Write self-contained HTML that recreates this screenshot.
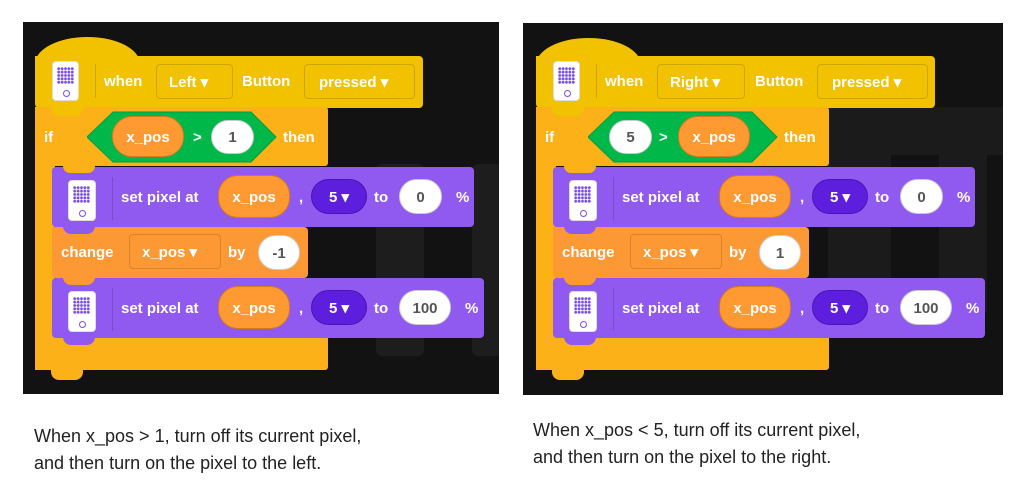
<!DOCTYPE html>
<html><head><meta charset="utf-8"><style>
body{margin:0;width:1024px;height:487px;background:#fff;position:relative;overflow:hidden;font-family:"Liberation Sans",sans-serif}
.panel{position:absolute;width:476px;height:372px;background:#121212}
.panel div{position:absolute;box-sizing:border-box}
.t{color:#fff;font-weight:bold;font-size:15px;line-height:1;white-space:nowrap}
.ico{background:#fff;border-radius:4px;border:1px solid #ddd}
.ico::before{content:"";position:absolute;left:4px;top:5px;width:17px;height:17px;background-image:radial-gradient(circle,#7a4ee6 1.3px,transparent 1.6px);background-size:3.4px 3.4px}
.ico::after{content:"";position:absolute;left:10px;bottom:3px;width:5px;height:5px;border:1.5px solid #7a4ee6;border-radius:50%}
.pill{border-radius:20px;text-align:center;color:#fff;font-weight:bold;font-size:15px;line-height:1}
.wp{background:#fff;color:#555;border:1px solid #ccc}
.op{background:#ff9a33;border:1px solid #d97a1a}
.dp{background:#5d1fdd;border:1px solid #4a15b5}
.dd{border:1px solid rgba(0,0,0,.15);border-radius:4px;color:#fff;font-weight:bold;font-size:15px;line-height:1}
.y{background:#f2c200}.c{background:#fbb117}.p{background:#9059f0}.o{background:#fd9935}
.tx{position:absolute;font-size:18px;color:#222;line-height:27px;white-space:nowrap}
</style></head><body>

<!-- LEFT -->
<div class="panel" style="left:23px;top:22px">
  <div style="left:353px;top:142px;width:48px;height:192px;background:#1d1d1d;border-radius:6px"></div>
  <div style="left:449px;top:142px;width:27px;height:192px;background:#1d1d1d;border-radius:6px 0 0 6px"></div>
  <div class="y" style="left:12px;top:15px;width:105px;height:60px;border-radius:50% 50% 0 0/45% 45% 0 0"></div>
  <div class="y" style="left:12px;top:34px;width:388px;height:52px;border-radius:0 4px 4px 4px"></div>
  <div class="c" style="left:12px;top:85px;width:293px;height:59px;border-radius:0 3px 3px 0"></div>
  <div class="c" style="left:12px;top:85px;width:20px;height:263px"></div>
  <div class="c" style="left:12px;top:312px;width:293px;height:36px;border-radius:0 3px 3px 3px"></div>
  <div class="c" style="left:28px;top:346px;width:32px;height:12px;border-radius:0 0 8px 8px"></div>
  <div class="y" style="left:28px;top:84px;width:32px;height:10px;border-radius:0 0 8px 8px"></div>
  <div class="ico" style="left:29px;top:39px;width:27px;height:40px"></div>
  <div style="left:72px;top:42px;width:1px;height:34px;background:rgba(0,0,0,.15)"></div>
  <div class="t" style="left:81px;top:52px">when</div>
  <div class="dd" style="left:133px;top:42px;width:77px;height:35px;padding:10px 0 0 12px">Left ▾</div>
  <div class="t" style="left:219px;top:52px">Button</div>
  <div class="dd" style="left:281px;top:42px;width:111px;height:35px;padding:10px 0 0 14px">pressed ▾</div>
  <div class="t" style="left:21px;top:108px">if</div>
  <svg style="position:absolute;left:64px;top:89px" width="190" height="52"><polygon points="0,26 26,1 164,1 189,26 164,51 26,51" fill="#00b84a" stroke="#089a40"/></svg>
  <div class="pill op" style="left:89px;top:94px;width:72px;height:41px;padding-top:13px">x_pos</div>
  <div class="t" style="left:170px;top:108px">&gt;</div>
  <div class="pill wp" style="left:188px;top:98px;width:43px;height:34px;padding-top:9px">1</div>
  <div class="t" style="left:260px;top:108px">then</div>

  <div class="p" style="left:29px;top:145px;width:422px;height:60px;border-radius:4px"></div>
  <div class="c" style="left:40px;top:144px;width:32px;height:7px;border-radius:0 0 8px 8px"></div>
  <div class="ico" style="left:45px;top:158px;width:28px;height:41px"></div>
  <div style="left:89px;top:155px;width:1px;height:43px;background:rgba(0,0,0,.15)"></div>
  <div class="t" style="left:98px;top:168px">set pixel at</div>
  <div class="pill op" style="left:195px;top:153px;width:72px;height:43px;padding-top:14px">x_pos</div>
  <div class="t" style="left:276px;top:168px">,</div>
  <div class="pill dp" style="left:288px;top:157px;width:56px;height:35px;padding-top:10px">5 ▾</div>
  <div class="t" style="left:351px;top:168px">to</div>
  <div class="pill wp" style="left:376px;top:157px;width:43px;height:35px;padding-top:10px">0</div>
  <div class="t" style="left:433px;top:168px">%</div>

  <div class="o" style="left:29px;top:205px;width:256px;height:51px;border-radius:0 4px 4px 4px"></div>
  <div class="p" style="left:40px;top:204px;width:32px;height:8px;border-radius:0 0 8px 8px"></div>
  <div class="t" style="left:38px;top:223px">change</div>
  <div class="dd" style="left:106px;top:212px;width:92px;height:35px;padding:10px 0 0 12px">x_pos ▾</div>
  <div class="t" style="left:205px;top:223px">by</div>
  <div class="pill wp" style="left:235px;top:213px;width:42px;height:35px;padding-top:10px">-1</div>

  <div class="p" style="left:29px;top:256px;width:432px;height:60px;border-radius:4px"></div>
  <div class="o" style="left:40px;top:255px;width:32px;height:8px;border-radius:0 0 8px 8px"></div>
  <div class="p" style="left:40px;top:314px;width:32px;height:9px;border-radius:0 0 8px 8px"></div>
  <div class="ico" style="left:45px;top:269px;width:28px;height:41px"></div>
  <div style="left:89px;top:266px;width:1px;height:43px;background:rgba(0,0,0,.15)"></div>
  <div class="t" style="left:98px;top:279px">set pixel at</div>
  <div class="pill op" style="left:195px;top:264px;width:72px;height:43px;padding-top:14px">x_pos</div>
  <div class="t" style="left:276px;top:279px">,</div>
  <div class="pill dp" style="left:288px;top:268px;width:56px;height:35px;padding-top:10px">5 ▾</div>
  <div class="t" style="left:351px;top:279px">to</div>
  <div class="pill wp" style="left:376px;top:268px;width:52px;height:35px;padding-top:10px">100</div>
  <div class="t" style="left:442px;top:279px">%</div>
</div>

<!-- RIGHT -->
<div class="panel" style="left:523px;top:23px;width:480px">
  <div style="left:305px;top:84px;width:175px;height:205px;background:#1b1b1b"></div>
  <div style="left:368px;top:132px;width:48px;height:160px;background:#121212"></div>
  <div style="left:464px;top:132px;width:16px;height:160px;background:#121212"></div>
  <div class="y" style="left:13px;top:15px;width:105px;height:60px;border-radius:50% 50% 0 0/45% 45% 0 0"></div>
  <div class="y" style="left:13px;top:33px;width:399px;height:52px;border-radius:0 4px 4px 4px"></div>
  <div class="c" style="left:13px;top:84px;width:293px;height:59px;border-radius:0 3px 3px 0"></div>
  <div class="c" style="left:13px;top:84px;width:20px;height:263px"></div>
  <div class="c" style="left:13px;top:311px;width:293px;height:36px;border-radius:0 3px 3px 3px"></div>
  <div class="c" style="left:29px;top:345px;width:32px;height:12px;border-radius:0 0 8px 8px"></div>
  <div class="y" style="left:29px;top:83px;width:32px;height:10px;border-radius:0 0 8px 8px"></div>
  <div class="ico" style="left:30px;top:38px;width:27px;height:40px"></div>
  <div style="left:73px;top:41px;width:1px;height:34px;background:rgba(0,0,0,.15)"></div>
  <div class="t" style="left:82px;top:51px">when</div>
  <div class="dd" style="left:134px;top:41px;width:88px;height:35px;padding:10px 0 0 12px">Right ▾</div>
  <div class="t" style="left:232px;top:51px">Button</div>
  <div class="dd" style="left:294px;top:41px;width:111px;height:35px;padding:10px 0 0 14px">pressed ▾</div>
  <div class="t" style="left:22px;top:107px">if</div>
  <svg style="position:absolute;left:65px;top:88px" width="190" height="52"><polygon points="0,26 26,1 164,1 189,26 164,51 26,51" fill="#00b84a" stroke="#089a40"/></svg>
  <div class="pill wp" style="left:86px;top:97px;width:43px;height:34px;padding-top:9px">5</div>
  <div class="t" style="left:136px;top:107px">&gt;</div>
  <div class="pill op" style="left:155px;top:93px;width:72px;height:41px;padding-top:13px">x_pos</div>
  <div class="t" style="left:261px;top:107px">then</div>

  <div class="p" style="left:30px;top:144px;width:422px;height:60px;border-radius:4px"></div>
  <div class="c" style="left:41px;top:143px;width:32px;height:7px;border-radius:0 0 8px 8px"></div>
  <div class="ico" style="left:46px;top:157px;width:28px;height:41px"></div>
  <div style="left:90px;top:154px;width:1px;height:43px;background:rgba(0,0,0,.15)"></div>
  <div class="t" style="left:99px;top:167px">set pixel at</div>
  <div class="pill op" style="left:196px;top:152px;width:72px;height:43px;padding-top:14px">x_pos</div>
  <div class="t" style="left:277px;top:167px">,</div>
  <div class="pill dp" style="left:289px;top:156px;width:56px;height:35px;padding-top:10px">5 ▾</div>
  <div class="t" style="left:352px;top:167px">to</div>
  <div class="pill wp" style="left:377px;top:156px;width:43px;height:35px;padding-top:10px">0</div>
  <div class="t" style="left:434px;top:167px">%</div>

  <div class="o" style="left:30px;top:204px;width:256px;height:51px;border-radius:0 4px 4px 4px"></div>
  <div class="p" style="left:41px;top:203px;width:32px;height:8px;border-radius:0 0 8px 8px"></div>
  <div class="t" style="left:39px;top:222px">change</div>
  <div class="dd" style="left:107px;top:211px;width:92px;height:35px;padding:10px 0 0 12px">x_pos ▾</div>
  <div class="t" style="left:206px;top:222px">by</div>
  <div class="pill wp" style="left:236px;top:212px;width:42px;height:35px;padding-top:10px">1</div>

  <div class="p" style="left:30px;top:255px;width:432px;height:60px;border-radius:4px"></div>
  <div class="o" style="left:41px;top:254px;width:32px;height:8px;border-radius:0 0 8px 8px"></div>
  <div class="p" style="left:41px;top:313px;width:32px;height:9px;border-radius:0 0 8px 8px"></div>
  <div class="ico" style="left:46px;top:268px;width:28px;height:41px"></div>
  <div style="left:90px;top:265px;width:1px;height:43px;background:rgba(0,0,0,.15)"></div>
  <div class="t" style="left:99px;top:278px">set pixel at</div>
  <div class="pill op" style="left:196px;top:263px;width:72px;height:43px;padding-top:14px">x_pos</div>
  <div class="t" style="left:277px;top:278px">,</div>
  <div class="pill dp" style="left:289px;top:267px;width:56px;height:35px;padding-top:10px">5 ▾</div>
  <div class="t" style="left:352px;top:278px">to</div>
  <div class="pill wp" style="left:377px;top:267px;width:52px;height:35px;padding-top:10px">100</div>
  <div class="t" style="left:443px;top:278px">%</div>
</div>

<div class="tx" style="left:34px;top:423px">When x_pos &gt; 1, turn off its current pixel,<br>and then turn on the pixel to the left.</div>
<div class="tx" style="left:533px;top:417px">When x_pos &lt; 5, turn off its current pixel,<br>and then turn on the pixel to the right.</div>
</body></html>
